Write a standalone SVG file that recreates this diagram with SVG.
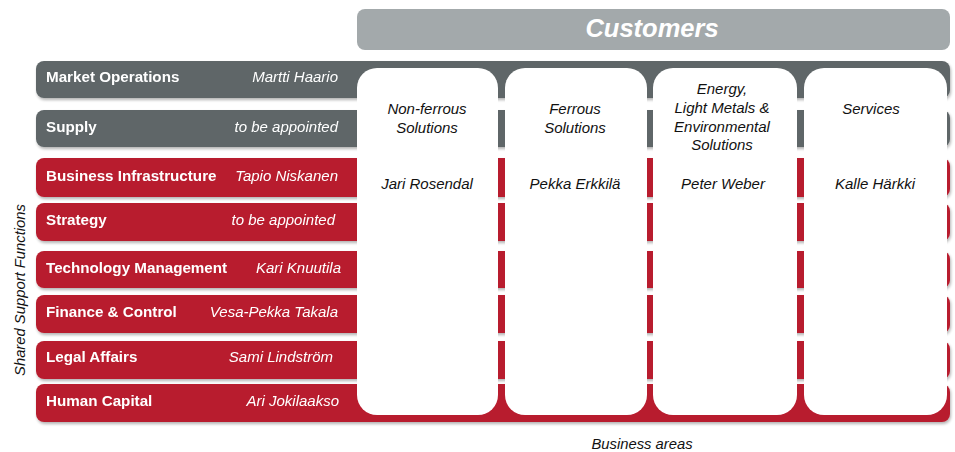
<svg xmlns="http://www.w3.org/2000/svg" width="955" height="452" viewBox="0 0 955 452">
  <defs>
    <filter id="shadow" x="-5%" y="-20%" width="110%" height="160%">
      <feGaussianBlur in="SourceAlpha" stdDeviation="1.5"/>
      <feOffset dx="1" dy="2" result="b"/>
      <feComponentTransfer><feFuncA type="linear" slope="0.3"/></feComponentTransfer>
      <feMerge><feMergeNode/><feMergeNode in="SourceGraphic"/></feMerge>
    </filter>
  </defs>
  <style>
    .gray { fill: #5e6668; }
    .red { fill: #b81e2f; }
    .col { fill: #ffffff; }
    .fn { font-family: "Liberation Sans", Arial, sans-serif; font-size: 15.2px; font-weight: bold; fill: #ffffff; }
    .who { font-family: "Liberation Sans", Arial, sans-serif; font-size: 15px; font-style: italic; fill: #ffffff; text-anchor: end; }
    .area { font-family: "Liberation Sans", Arial, sans-serif; font-size: 15px; font-style: italic; fill: #111111; text-anchor: middle; }
    .lbl { font-family: "Liberation Sans", Arial, sans-serif; font-size: 14.8px; font-style: italic; fill: #111111; text-anchor: middle; }
  </style>

  <!-- Customers header -->
  <g id="customers">
    <rect x="357" y="9" width="593" height="41" rx="8" fill="#a3a9ab"/>
    <text x="652" y="37" font-family="Liberation Sans, Arial, sans-serif" font-size="25.5" font-weight="bold" font-style="italic" fill="#ffffff" text-anchor="middle">Customers</text>
  </g>

  <!-- Support function bars -->
  <g id="functions" filter="url(#shadow)">
    <g id="market-operations">
      <rect class="gray" x="36" y="61" width="914" height="37" rx="8"/>
      <text class="fn" x="46" y="82">Market Operations</text>
      <text class="who" x="338" y="82">Martti Haario</text>
    </g>
    <g id="supply">
      <rect class="gray" x="36" y="110" width="914" height="37" rx="8"/>
      <text class="fn" x="46" y="132">Supply</text>
      <text class="who" x="338" y="132">to be appointed</text>
    </g>
    <g id="business-infrastructure">
      <rect class="red" x="36" y="158" width="914" height="39" rx="8"/>
      <text class="fn" x="46" y="181">Business Infrastructure</text>
      <text class="who" x="338" y="181">Tapio Niskanen</text>
    </g>
    <g id="strategy">
      <rect class="red" x="36" y="203" width="914" height="38" rx="8"/>
      <text class="fn" x="46" y="225">Strategy</text>
      <text class="who" x="335" y="225">to be appointed</text>
    </g>
    <g id="technology-management">
      <rect class="red" x="36" y="251" width="914" height="37" rx="8"/>
      <text class="fn" x="46" y="273">Technology Management</text>
      <text class="who" x="341" y="273">Kari Knuutila</text>
    </g>
    <g id="finance-control">
      <rect class="red" x="36" y="295" width="914" height="38" rx="8"/>
      <text class="fn" x="46" y="317">Finance &amp; Control</text>
      <text class="who" x="338" y="317">Vesa-Pekka Takala</text>
    </g>
    <g id="legal-affairs">
      <rect class="red" x="36" y="341" width="914" height="38" rx="8"/>
      <text class="fn" x="46" y="362">Legal Affairs</text>
      <text class="who" x="333" y="362">Sami Lindström</text>
    </g>
    <g id="human-capital">
      <rect class="red" x="36" y="384" width="914" height="38" rx="8"/>
      <text class="fn" x="46" y="406">Human Capital</text>
      <text class="who" x="339" y="406">Ari Jokilaakso</text>
    </g>
  </g>

  <!-- Business area columns -->
  <g id="non-ferrous">
    <rect class="col" x="357" y="68" width="141" height="347" rx="20"/>
    <text class="area" x="427" y="114">Non-ferrous</text>
    <text class="area" x="427" y="133">Solutions</text>
    <text class="area" x="427" y="189">Jari Rosendal</text>
  </g>
  <g id="ferrous">
    <rect class="col" x="505" y="68" width="142" height="347" rx="20"/>
    <text class="area" x="575" y="114">Ferrous</text>
    <text class="area" x="575" y="133">Solutions</text>
    <text class="area" x="575" y="189">Pekka Erkkilä</text>
  </g>
  <g id="energy">
    <rect class="col" x="653" y="68" width="144" height="347" rx="20"/>
    <text class="area" x="722" y="94">Energy,</text>
    <text class="area" x="722" y="113">Light Metals &amp;</text>
    <text class="area" x="722" y="132">Environmental</text>
    <text class="area" x="722" y="150">Solutions</text>
    <text class="area" x="723" y="189">Peter Weber</text>
  </g>
  <g id="services">
    <rect class="col" x="804" y="68" width="143" height="347" rx="20"/>
    <text class="area" x="871" y="114">Services</text>
    <text class="area" x="875" y="189">Kalle Härkki</text>
  </g>

  <!-- Axis labels -->
  <text class="lbl" transform="translate(25,290) rotate(-90)">Shared Support Functions</text>
  <text class="lbl" x="642" y="449">Business areas</text>
</svg>
